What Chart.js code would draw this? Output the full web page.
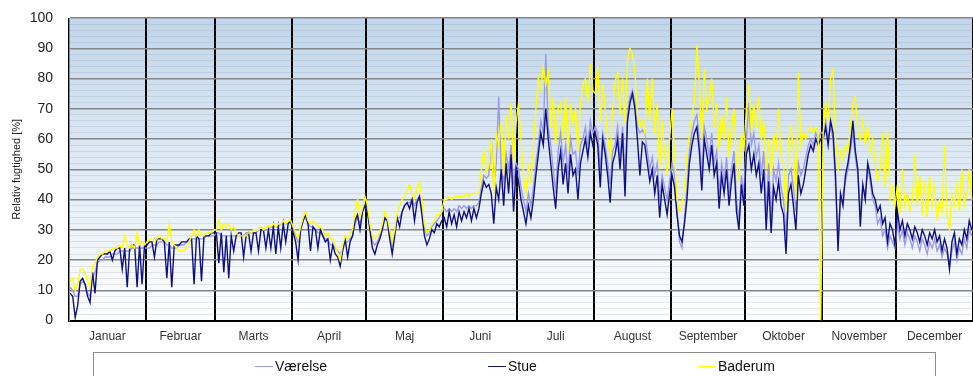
<!DOCTYPE html>
<html>
<head>
<meta charset="utf-8">
<title>Relativ fugtighed</title>
<script src="https://cdn.jsdelivr.net/npm/chart.js@4"></script>
<style>
  html, body { margin: 0; padding: 0; background: #fff; }
  #wrap { width: 973px; height: 376px; position: relative; }
</style>
</head>
<body>
<div id="wrap"><canvas id="humidityChart"></canvas></div>
<script>
// Month names and lengths (x axis)
const months = ["Januar", "Februar", "Marts", "April", "Maj", "Juni", "Juli", "August", "September", "Oktober", "November", "December"];
const monthDays = [31, 28, 31, 30, 31, 30, 31, 31, 30, 31, 30, 31];
const yTicks = [0, 10, 20, 30, 40, 50, 60, 70, 80, 90, 100];

// Daily relative humidity [%], one row per month
const vaerelse = [
  [11,10,8,8,12,13,12,9,8,14,16,19,20,20,21,21,21,22,22,22,23,23,23,23,23,24,24,24,24,24,24],
  [24,24,25,25,25,26,26,26,25,25,24,24,24,25,25,25,26,26,27,27,27,27,27,27,28,28,28,28],
  [29,29,28,28,28,28,28,28,28,28,28,28,29,29,29,29,29,30,30,30,30,30,31,31,31,31,32,32,32,32,33],
  [30,28,26,30,33,34,32,31,31,30,29,29,28,27,27,25,25,24,23,22,24,26,26,27,28,32,34,32,36,38],
  [36,31,26,25,26,28,31,34,33,29,25,29,34,34,36,38,39,39,40,38,40,41,37,31,28,29,31,32,33,34,36],
  [37,36,37,36,37,36,38,37,38,37,38,37,38,38,39,44,48,47,48,60,45,52,74,50,46,55,50,58,45,52],
  [50,44,40,36,42,38,44,52,58,66,62,88,64,58,50,42,56,62,52,58,48,60,55,56,48,58,60,64,58,66,62],
  [64,62,50,62,58,52,45,56,58,64,54,64,48,68,74,76,72,64,62,63,62,56,50,54,48,52,40,48,44,40,46],
  [52,48,36,26,24,34,44,56,62,66,68,60,48,64,60,54,62,52,56,42,52,46,54,42,50,56,40,33,48,42],
  [60,72,58,62,54,58,48,56,36,52,34,50,46,52,44,40,28,48,50,44,36,52,48,50,54,58,60,58,62,60,62],
  [62,66,60,64,60,44,28,40,42,46,50,56,62,54,48,36,44,42,50,46,40,38,32,34,28,30,24,28,26,24],
  [32,27,30,25,29,27,24,28,26,23,27,25,22,26,24,27,23,25,21,24,22,18,23,26,20,24,22,27,24,30,28]
];
const stue = [
  [9,8,1,5,13,14,12,8,6,16,9,20,21,22,22,22,23,20,23,24,24,17,24,11,24,25,25,11,25,12,25],
  [25,26,26,21,27,27,27,26,14,26,11,25,25,25,26,26,26,27,27,12,28,27,13,28,28,28,29,29],
  [29,19,29,16,28,14,28,23,28,29,29,21,28,29,23,29,29,23,30,30,24,30,24,31,22,31,24,32,26,32,33],
  [29,26,20,30,33,35,32,23,31,30,24,30,28,26,27,20,25,22,21,18,23,27,21,26,28,33,35,30,36,38],
  [36,30,24,22,25,27,30,34,33,27,22,28,34,31,36,38,39,37,40,33,39,41,35,28,25,27,30,29,32,31,33],
  [34,31,36,32,35,31,36,33,36,34,37,33,37,34,37,42,46,44,45,42,32,44,40,50,38,52,42,55,36,50],
  [46,40,36,32,38,34,40,48,55,62,58,70,60,52,44,37,50,56,45,52,42,55,48,50,40,52,56,60,54,62,58],
  [62,58,44,60,55,48,39,52,55,60,50,62,41,66,72,75,70,60,48,59,58,52,46,50,42,48,34,45,40,35,42],
  [48,44,35,28,26,32,40,52,58,62,64,56,43,60,55,50,58,48,52,37,48,42,50,38,46,52,36,30,45,38],
  [55,58,50,55,48,52,42,50,30,46,29,44,40,46,38,35,22,42,45,38,30,48,42,45,50,55,58,56,60,58,60],
  [60,64,58,66,62,48,23,42,38,48,52,58,66,56,50,31,45,40,52,48,42,40,36,38,32,34,26,32,30,25],
  [36,30,33,28,32,30,27,31,29,26,30,28,25,29,27,30,26,28,23,27,24,17,26,29,22,27,25,30,27,33,30]
];
const baderum = [
  [13,14,10,12,17,17,16,13,11,18,19,21,22,22,23,23,23,24,24,24,25,24,28,25,24,25,24,29,25,26,25],
  [26,27,27,26,27,28,27,27,26,32,26,25,24,23,23,23,24,26,28,30,28,30,28,28,29,29,29,30],
  [30,33,30,32,31,32,30,31,29,28,28,28,28,29,29,30,30,30,31,30,31,31,31,32,31,32,32,33,32,33,33],
  [31,29,27,31,34,36,33,32,33,32,31,31,30,28,29,27,27,25,22,20,25,28,27,29,30,36,40,34,37,41],
  [38,32,28,27,28,29,32,36,34,30,26,30,36,38,40,41,43,45,42,40,44,46,40,32,29,30,32,33,35,35,36],
  [40,40,41,40,41,41,41,41,41,42,41,42,42,42,42,50,56,49,51,60,42,62,58,66,48,68,60,72,52,65],
  [72,60,48,42,52,45,58,70,80,76,84,78,82,64,74,58,70,72,60,74,56,72,65,70,56,72,78,80,72,85,76],
  [75,84,66,78,70,60,55,70,79,82,68,80,65,86,90,88,82,68,64,66,62,80,66,80,62,72,50,66,55,48,60],
  [70,55,40,36,38,44,55,62,68,72,91,78,60,83,70,74,80,64,72,56,68,60,74,54,64,70,52,46,62,56],
  [70,78,62,72,64,74,60,66,50,60,48,62,56,70,54,52,36,60,64,56,40,82,58,62,60,63,64,62,64,62,0],
  [62,72,66,80,83,60,50,56,53,58,56,64,72,74,62,60,66,58,64,56,60,52,46,50,62,44,63,40,44,38],
  [45,35,50,38,42,36,40,55,38,48,35,46,34,48,38,44,33,40,36,58,35,30,42,38,45,36,50,38,42,50,40]
];

// month start days and label positions
const monthStart = [];
let acc = 0;
monthDays.forEach(d => { monthStart.push(acc); acc += d; });
const yearDays = acc;
const monthMid = monthStart.map((s, i) => s + monthDays[i] / 2);
const xTickValues = monthStart.concat(monthMid, [yearDays]).sort((a, b) => a - b);

function toPoints(rows) {
  return rows.flat().map((v, i) => ({ x: i + 0.5, y: v }));
}

const FONT = 'Arial, "Liberation Sans", sans-serif';

// light blue to white background inside the plot
const plotBackground = {
  id: 'plotBackground',
  beforeDraw(chart) {
    const { ctx, chartArea: a } = chart;
    const g = ctx.createLinearGradient(0, a.top, 0, a.bottom);
    g.addColorStop(0, '#c0d6ec');
    g.addColorStop(1, '#ffffff');
    ctx.save();
    ctx.fillStyle = g;
    ctx.fillRect(a.left, a.top, a.right - a.left, a.bottom - a.top);
    ctx.restore();
  }
};

// boxed legend below the month labels
const legendBox = {
  id: 'legendBox',
  afterDraw(chart) {
    const ctx = chart.ctx;
    const itemX = { 'Værelse': 255, 'Stue': 488, 'Baderum': 698 };
    ctx.save();
    ctx.strokeStyle = '#8c8c8c';
    ctx.lineWidth = 1;
    ctx.strokeRect(93.5, 352.5, 842, 40);
    ctx.font = '14px ' + FONT;
    ctx.textBaseline = 'middle';
    chart.data.datasets.forEach(ds => {
      const x = itemX[ds.label];
      ctx.strokeStyle = ds.borderColor;
      ctx.lineWidth = 1;
      ctx.beginPath();
      ctx.moveTo(x, 366.5);
      ctx.lineTo(x + 18, 366.5);
      ctx.stroke();
      ctx.fillStyle = '#111';
      ctx.fillText(ds.label, x + 20, 367);
    });
    ctx.restore();
  }
};

const ctx = document.getElementById('humidityChart').getContext('2d');

new Chart(ctx, {
  type: 'line',
  data: {
    datasets: [
      { label: 'Værelse', data: toPoints(vaerelse), borderColor: '#9a9aec', order: 2 },
      { label: 'Stue', data: toPoints(stue), borderColor: '#10107f', order: 1 },
      { label: 'Baderum', data: toPoints(baderum), borderColor: '#ffff00', order: 0 }
    ]
  },
  options: {
    responsive: true,
    maintainAspectRatio: false,
    animation: false,
    layout: { padding: { left: 10, right: 0, top: 18, bottom: 23 } },
    elements: {
      point: { radius: 0 },
      line: { borderWidth: 1.4, tension: 0 }
    },
    plugins: {
      legend: { display: false },
      tooltip: { enabled: false }
    },
    scales: {
      x: {
        type: 'linear',
        min: 0,
        max: yearDays,
        afterBuildTicks: scale => { scale.ticks = xTickValues.map(v => ({ value: v })); },
        afterFit: scale => { scale.paddingLeft = 0; scale.paddingRight = 0; },
        grid: {
          color: c => monthStart.includes(c.tick.value) || c.tick.value === yearDays ? '#000' : 'rgba(0,0,0,0)',
          lineWidth: 2,
          drawTicks: false
        },
        border: { color: '#000', width: 2 },
        ticks: {
          autoSkip: false,
          maxRotation: 0,
          padding: 9,
          color: '#333',
          font: { family: FONT, size: 12 },
          callback: v => {
            const i = monthMid.indexOf(v);
            return i >= 0 ? months[i] : '';
          }
        }
      },
      y: {
        min: 0,
        max: 100,
        afterFit: scale => { scale.width = 59; scale.paddingTop = 0; scale.paddingBottom = 0; },
        ticks: {
          stepSize: 2,
          autoSkip: false,
          padding: 16,
          color: '#222',
          font: { family: FONT, size: 14 },
          callback: v => yTicks.includes(v) ? v : ''
        },
        grid: {
          color: c => yTicks.includes(c.tick.value) ? '#858585' : 'rgba(150,150,150,0.22)',
          lineWidth: c => yTicks.includes(c.tick.value) ? 1.5 : 1,
          drawTicks: false
        },
        border: { color: '#888', width: 1 },
        title: {
          display: true,
          text: 'Relativ fugtighed [%]',
          color: '#222',
          font: { family: FONT, size: 11 },
          padding: { top: 0, bottom: 4 }
        }
      }
    }
  },
  plugins: [plotBackground, legendBox]
});
</script>
</body>
</html>
